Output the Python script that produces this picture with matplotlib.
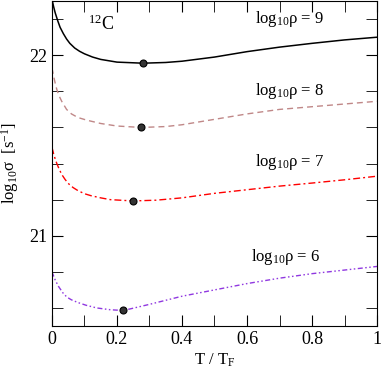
import matplotlib
matplotlib.use("Agg")
import matplotlib.pyplot as plt
from matplotlib.ticker import MultipleLocator, FuncFormatter

plt.rcParams['font.family'] = ['Liberation Serif', 'DejaVu Serif']
plt.rcParams['mathtext.fontset'] = 'custom'
plt.rcParams['mathtext.rm'] = 'Liberation Serif'
plt.rcParams['mathtext.it'] = 'Liberation Serif'

# curves: T/T_F vs log10 sigma
x9 = [0.0, 0.005, 0.01, 0.018, 0.025, 0.035, 0.045, 0.055, 0.07, 0.085, 0.1, 0.125, 0.15, 0.2, 0.28,
      0.35, 0.4, 0.5, 0.6, 0.7, 0.8, 0.9, 1.0]
y9 = [22.31, 22.27, 22.235, 22.19, 22.155, 22.12, 22.09, 22.066, 22.04, 22.022, 22.008, 21.99,
      21.977, 21.962, 21.956, 21.96, 21.967, 21.99, 22.02, 22.045, 22.066, 22.085, 22.10]

x8 = [0.0, 0.005, 0.01, 0.015, 0.022, 0.03, 0.045, 0.06, 0.08, 0.108, 0.15, 0.2, 0.275, 0.35, 0.4,
      0.5, 0.6, 0.7, 0.8, 0.9, 1.0]
y8 = [21.93, 21.885, 21.845, 21.81, 21.775, 21.745, 21.70, 21.675, 21.655, 21.64, 21.622, 21.608,
      21.60, 21.605, 21.615, 21.645, 21.675, 21.70, 21.715, 21.73, 21.745]

x7 = [0.0, 0.005, 0.01, 0.015, 0.022, 0.03, 0.04, 0.05, 0.065, 0.08, 0.1, 0.12, 0.15, 0.18, 0.25,
      0.32, 0.4, 0.5, 0.6, 0.7, 0.8, 0.9, 1.0]
y7 = [21.49, 21.455, 21.425, 21.40, 21.37, 21.34, 21.313, 21.29, 21.267, 21.25, 21.233, 21.222,
      21.21, 21.20, 21.193, 21.197, 21.21, 21.235, 21.255, 21.275, 21.292, 21.31, 21.33]

x6 = [0.0, 0.01, 0.02, 0.033, 0.046, 0.06, 0.08, 0.105, 0.138, 0.18, 0.22, 0.3, 0.4, 0.5, 0.6,
      0.7, 0.8, 0.9, 1.0]
y6 = [20.80, 20.755, 20.72, 20.685, 20.66, 20.645, 20.63, 20.615, 20.60, 20.59, 20.586, 20.62,
      20.665, 20.70, 20.735, 20.765, 20.79, 20.81, 20.83]

# minima markers
min_x = [0.28, 0.275, 0.25, 0.22]
min_y = [21.956, 21.60, 21.193, 20.586]

labels = [r'log$_{10}$$\rho$ = 9', r'log$_{10}$$\rho$ = 8', r'log$_{10}$$\rho$ = 7', r'log$_{10}$$\rho$ = 6']
label_pos = [(0.73, 22.20), (0.73, 21.80), (0.73, 21.41), (0.72, 20.88)]

fig = plt.figure(figsize=(3.82, 3.69), dpi=100)
ax = fig.add_axes([0.136, 0.1165, 0.851, 0.8805])

ax.plot(x9, y9, color='black', lw=1.1)
ax.plot(x8, y8, color='#c08888', lw=1.0, dashes=(4.3, 2.9))
ax.plot(x7, y7, color='red', lw=1.0, dashes=(5, 2.2, 1.4, 2.2))
ax.plot(x6, y6, color='#9038e0', lw=1.0, dashes=(3.6, 1.8, 1.1, 1.8, 1.1, 1.8))
ax.plot(min_x, min_y, 'o', color='#333333', mec='black', ms=5, mew=0.8)

for txt, (tx, ty) in zip(labels, label_pos):
    ax.text(tx, ty, txt, ha='center', va='center', fontsize=12)
ax.text(0.15, 22.17, r'$^{12}$C', ha='center', va='center', fontsize=13)

ax.set_xlim(0, 1)
ax.set_ylim(20.5, 22.3)
ax.xaxis.set_major_locator(MultipleLocator(0.2))
ax.xaxis.set_minor_locator(MultipleLocator(0.1))
ax.xaxis.set_major_formatter(FuncFormatter(lambda v, p: '%g' % round(v, 2)))
ax.yaxis.set_major_locator(MultipleLocator(1))
ax.yaxis.set_minor_locator(MultipleLocator(0.2))
ax.tick_params(which='both', direction='in', top=True, right=True, labelsize=13, length=8)
ax.set_xlabel(r'T / T$_\mathrm{F}$', fontsize=12, labelpad=3)
ax.set_ylabel(r'log$_{10}$$\sigma$  [s$^{-1}$]', fontsize=12, labelpad=6)

fig.savefig('out.png', dpi=100)
